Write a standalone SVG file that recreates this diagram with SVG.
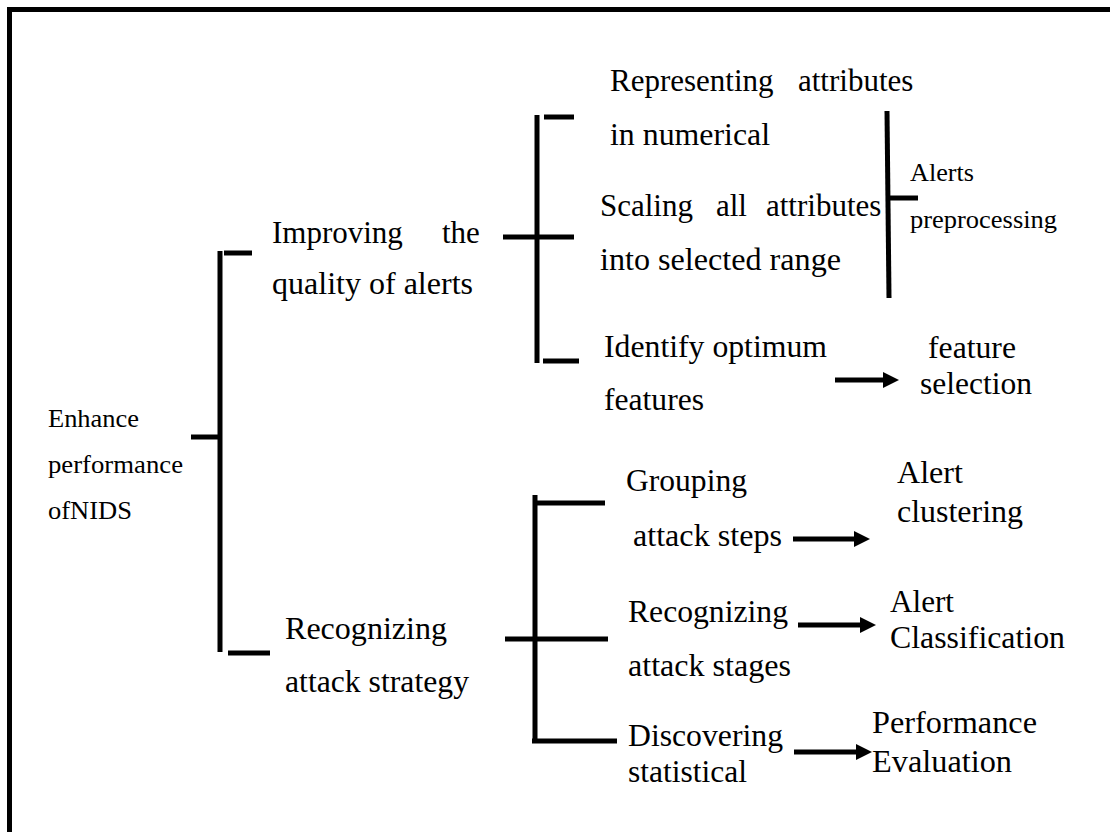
<svg xmlns="http://www.w3.org/2000/svg" width="1110" height="832" viewBox="0 0 1110 832">
  <style>
    text { font-family: "Liberation Serif", "Times New Roman", serif; fill: #000; }
    .lg { font-size: 31px; }
    .sm { font-size: 25px; }
    .bar { stroke: #000; stroke-width: 5; fill: none; stroke-linecap: butt; }
    .arr { stroke: #000; stroke-width: 5; fill: none; marker-end: url(#head); }
  </style>
  <defs>
    <marker id="head" viewBox="0 0 16 16" markerUnits="userSpaceOnUse" markerWidth="16" markerHeight="16" refX="6" refY="8" orient="auto">
      <path d="M0,0 L16,8 L0,16 z" fill="#000"/>
    </marker>
  </defs>

  <rect width="1110" height="832" fill="#fff"/>
  <!-- page frame: only its top and left edges fall inside the canvas -->
  <rect x="9.5" y="9.5" width="1200" height="1000" fill="none" stroke="#000" stroke-width="5"/>

  <g id="connectors">
    <!-- root bracket -->
    <line class="bar" x1="220" y1="251" x2="220" y2="652"/>
    <line class="bar" x1="224" y1="253" x2="252" y2="253"/>
    <line class="bar" x1="191" y1="437" x2="220" y2="437"/>
    <line class="bar" x1="228" y1="653" x2="270" y2="653"/>
    <!-- alert quality bracket -->
    <line class="bar" x1="537" y1="115" x2="537" y2="363"/>
    <line class="bar" x1="544" y1="117" x2="574" y2="117"/>
    <line class="bar" x1="503" y1="237" x2="574" y2="237"/>
    <line class="bar" x1="543" y1="361" x2="579" y2="361"/>
    <!-- preprocessing bracket -->
    <line class="bar" x1="887" y1="111" x2="889" y2="298"/>
    <line class="bar" x1="888" y1="198" x2="918" y2="198"/>
    <!-- attack strategy bracket -->
    <line class="bar" x1="535" y1="495" x2="535" y2="739"/>
    <line class="bar" x1="537" y1="503" x2="605" y2="503"/>
    <line class="bar" x1="505" y1="639" x2="608" y2="639"/>
    <line class="bar" x1="532" y1="741" x2="617" y2="741"/>
    <!-- arrows to outcomes -->
    <line class="arr" x1="835" y1="380" x2="889" y2="380"/>
    <line class="arr" x1="793" y1="539" x2="860" y2="539"/>
    <line class="arr" x1="798" y1="625" x2="866" y2="625"/>
    <line class="arr" x1="794" y1="752" x2="862" y2="752"/>
  </g>

  <g id="enhance-nids">
    <text class="sm" x="48" y="427" textLength="91" lengthAdjust="spacingAndGlyphs">Enhance</text>
    <text class="sm" x="48" y="473" textLength="135" lengthAdjust="spacingAndGlyphs">performance</text>
    <text class="sm" x="48" y="519" textLength="84" lengthAdjust="spacingAndGlyphs">ofNIDS</text>
  </g>

  <g id="improving-quality">
    <text class="lg" x="272" y="243">Improving<tspan x="442">the</tspan></text>
    <text class="lg" x="272" y="294" textLength="201" lengthAdjust="spacingAndGlyphs">quality of alerts</text>
  </g>

  <g id="recognizing-strategy">
    <text class="lg" x="285" y="639" textLength="162" lengthAdjust="spacingAndGlyphs">Recognizing</text>
    <text class="lg" x="285" y="692" textLength="184" lengthAdjust="spacingAndGlyphs">attack strategy</text>
  </g>

  <g id="representing-attributes">
    <text class="lg" x="610" y="91">Representing<tspan x="798">attributes</tspan></text>
    <text class="lg" x="610" y="145" textLength="160" lengthAdjust="spacingAndGlyphs">in numerical</text>
  </g>

  <g id="scaling-attributes">
    <text class="lg" x="600" y="216">Scaling<tspan x="716">all</tspan><tspan x="766">attributes</tspan></text>
    <text class="lg" x="600" y="270" textLength="241" lengthAdjust="spacingAndGlyphs">into selected range</text>
  </g>

  <g id="alerts-preprocessing">
    <text class="sm" x="910" y="181" textLength="64" lengthAdjust="spacingAndGlyphs">Alerts</text>
    <text class="sm" x="910" y="228" textLength="147" lengthAdjust="spacingAndGlyphs">preprocessing</text>
  </g>

  <g id="identify-features">
    <text class="lg" x="604" y="357" textLength="223" lengthAdjust="spacingAndGlyphs">Identify optimum</text>
    <text class="lg" x="604" y="410" textLength="100" lengthAdjust="spacingAndGlyphs">features</text>
  </g>

  <g id="feature-selection">
    <text class="lg" x="928" y="358" textLength="88" lengthAdjust="spacingAndGlyphs">feature</text>
    <text class="lg" x="920" y="394" textLength="112" lengthAdjust="spacingAndGlyphs">selection</text>
  </g>

  <g id="grouping-steps">
    <text class="lg" x="626" y="491" textLength="121" lengthAdjust="spacingAndGlyphs">Grouping</text>
    <text class="lg" x="633" y="546" textLength="149" lengthAdjust="spacingAndGlyphs">attack steps</text>
  </g>

  <g id="alert-clustering">
    <text class="lg" x="897" y="483" textLength="66" lengthAdjust="spacingAndGlyphs">Alert</text>
    <text class="lg" x="897" y="522" textLength="126" lengthAdjust="spacingAndGlyphs">clustering</text>
  </g>

  <g id="recognizing-stages">
    <text class="lg" x="628" y="622" textLength="160" lengthAdjust="spacingAndGlyphs">Recognizing</text>
    <text class="lg" x="628" y="676" textLength="163" lengthAdjust="spacingAndGlyphs">attack stages</text>
  </g>

  <g id="alert-classification">
    <text class="lg" x="890" y="612" textLength="64" lengthAdjust="spacingAndGlyphs">Alert</text>
    <text class="lg" x="890" y="648" textLength="175" lengthAdjust="spacingAndGlyphs">Classification</text>
  </g>

  <g id="discovering-statistical">
    <text class="lg" x="628" y="746" textLength="155" lengthAdjust="spacingAndGlyphs">Discovering</text>
    <text class="lg" x="628" y="782" textLength="119" lengthAdjust="spacingAndGlyphs">statistical</text>
  </g>

  <g id="performance-evaluation">
    <text class="lg" x="872" y="733" textLength="165" lengthAdjust="spacingAndGlyphs">Performance</text>
    <text class="lg" x="872" y="772" textLength="140" lengthAdjust="spacingAndGlyphs">Evaluation</text>
  </g>
</svg>
